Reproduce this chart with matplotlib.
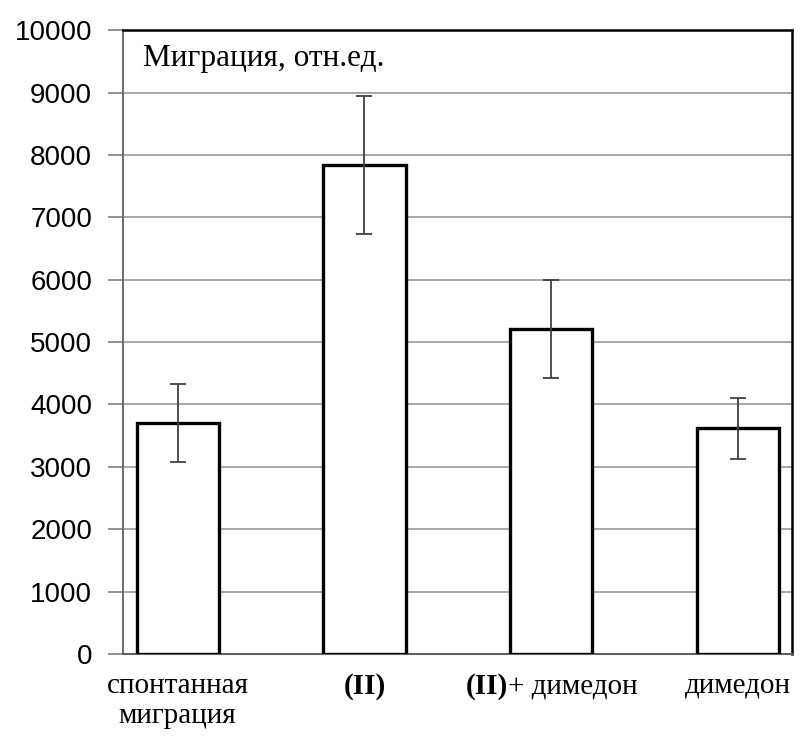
import matplotlib
matplotlib.use("Agg")
import matplotlib.pyplot as plt
from matplotlib.offsetbox import TextArea, HPacker, AnnotationBbox
import numpy as np

categories = ["спонтанная\nмиграция", "(II)", "(II)+ димедон", "димедон"]
values = [3700, 7840, 5210, 3620]
errors = [620, 1100, 780, 490]
yticks = list(range(0, 10001, 1000))
title_text = "Миграция, отн.ед."

SERIF = "Liberation Serif"
LABEL_SIZE = 21

fig = plt.figure(figsize=(8.02, 7.38), dpi=100)
ax = fig.add_axes([0.153, 0.114, 0.835, 0.845])

x = np.arange(len(categories))
ax.bar(x, values, width=0.44, color="white", edgecolor="black", linewidth=2.4, zorder=3)
ax.errorbar(x, values, yerr=errors, fmt="none", ecolor="#404040", elinewidth=1.3,
            capsize=6, capthick=1.3, zorder=4)

ax.set_xlim(-0.294, 3.29)
ax.set_ylim(0, 10000)
ax.set_yticks(yticks)
ax.set_yticklabels([str(t) for t in yticks], fontfamily="Liberation Sans", fontsize=20)
ax.yaxis.grid(True, color="#a0a0a0", linewidth=1.3, zorder=0)
ax.set_axisbelow(True)
ax.tick_params(axis="y", length=11, width=1.2, color="#808080", pad=11)

ax.set_xticks(x)
ax.set_xticklabels([])
ax.tick_params(axis="x", length=0)


def category_label(xi, text):
    """Category caption under a bar; the roman numeral part is set in bold."""
    if text.startswith("(II)"):
        parts = [TextArea("(II)", textprops=dict(fontfamily=SERIF, fontsize=LABEL_SIZE,
                                                  fontweight="bold"))]
        rest = text[len("(II)"):]
        if rest:
            parts.append(TextArea(rest, textprops=dict(fontfamily=SERIF, fontsize=LABEL_SIZE)))
        box = HPacker(children=parts, pad=0, sep=0, align="baseline")
    else:
        box = TextArea(text, textprops=dict(fontfamily=SERIF, fontsize=LABEL_SIZE,
                                            linespacing=1.2, ha="center", multialignment="center"))
    ab = AnnotationBbox(box, (xi, -0.03), xycoords=ax.get_xaxis_transform(),
                        box_alignment=(0.5, 1.0), frameon=False, pad=0,
                        annotation_clip=False)
    ax.add_artist(ab)


for xi, lab in zip(x, categories):
    category_label(xi, lab)

for side in ("top", "right"):
    ax.spines[side].set_color("black")
    ax.spines[side].set_linewidth(1.8)
ax.spines["left"].set_color("#606060")
ax.spines["left"].set_linewidth(1.3)
ax.spines["bottom"].set_color("#606060")
ax.spines["bottom"].set_linewidth(1.5)

ax.text(0.03, 0.978, title_text, transform=ax.transAxes, ha="left", va="top",
        fontfamily=SERIF, fontsize=22.5)

fig.savefig("out.png", dpi=100)
